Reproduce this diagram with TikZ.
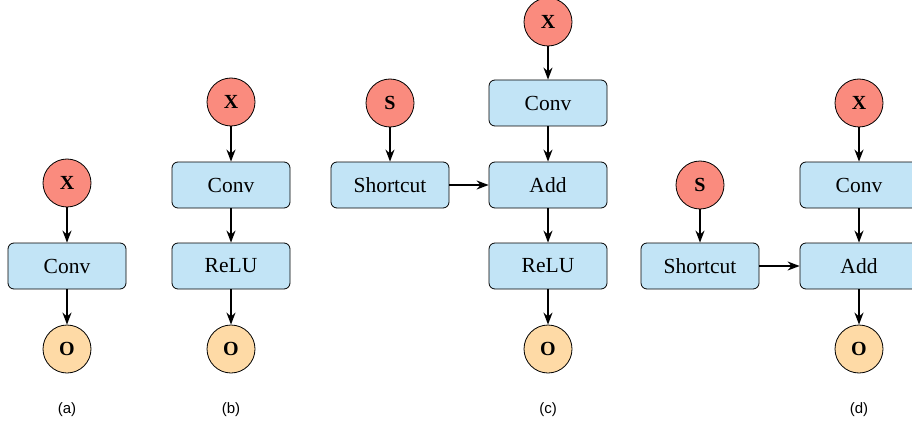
\documentclass[tikz,border=0pt]{standalone}
\usepackage{fontspec}
\setmainfont{Liberation Serif}
\newfontfamily\legendefont{Liberation Sans}
\usetikzlibrary{arrows.meta}
\definecolor{rouge_clair}{HTML}{FA8B7E}
\definecolor{bleu_clair}{HTML}{C2E4F6}
\definecolor{orange_clair}{HTML}{FEDAA6}

\begin{document}
\begin{tikzpicture}[x=1pt,y=-1pt,>={Stealth[length=12pt,width=9pt]},
    bloc/.style={draw, line width=0.8pt, fill=bleu_clair, rounded corners=6pt,
      minimum width=118pt, minimum height=46pt, font=\fontsize{21.5}{24}\selectfont},
    entree/.style={draw, line width=0.8pt, circle, fill=rouge_clair, minimum size=48pt,
      inner sep=0pt, font=\fontsize{20}{22}\selectfont\bfseries},
    sortie/.style={entree, fill=orange_clair},
    fleche/.style={->, line width=1.8pt}]

    % Cadre de l'image
    \useasboundingbox (0,0) rectangle (912,425);
    \clip (0,0) rectangle (912,425);

    % Schéma (a)
    \node[entree] (xa) at (67,183) {X};
    \node[bloc] (conva) at (67,266) {Conv};
    \node[sortie] (oa) at (67,349) {O};
    \draw[fleche] (xa) -- (conva);
    \draw[fleche] (conva) -- (oa);

    % Schéma (b)
    \node[entree] (xb) at (231,102) {X};
    \node[bloc] (convb) at (231,185) {Conv};
    \node[bloc] (relub) at (231,266) {ReLU};
    \node[sortie] (ob) at (231,349) {O};
    \draw[fleche] (xb) -- (convb);
    \draw[fleche] (convb) -- (relub);
    \draw[fleche] (relub) -- (ob);

    % Schéma (c) : bloc résiduel avec ReLU
    \node[entree] (xc) at (548,22) {X};
    \node[bloc] (convc) at (548,103) {Conv};
    \node[bloc] (addc) at (548,185) {Add};
    \node[bloc] (reluc) at (548,266) {ReLU};
    \node[sortie] (oc) at (548,349) {O};
    \node[entree] (sc) at (390,103) {S};
    \node[bloc] (shortc) at (390,185) {Shortcut};
    \draw[fleche] (xc) -- (convc);
    \draw[fleche] (convc) -- (addc);
    \draw[fleche] (addc) -- (reluc);
    \draw[fleche] (reluc) -- (oc);
    \draw[fleche] (sc) -- (shortc);
    \draw[fleche] (shortc) -- (addc);

    % Schéma (d) : bloc résiduel sans ReLU
    \node[entree] (xd) at (859,103) {X};
    \node[bloc] (convd) at (859,185) {Conv};
    \node[bloc] (addd) at (859,266) {Add};
    \node[sortie] (od) at (859,349) {O};
    \node[entree] (sd) at (700,185) {S};
    \node[bloc] (shortd) at (700,266) {Shortcut};
    \draw[fleche] (xd) -- (convd);
    \draw[fleche] (convd) -- (addd);
    \draw[fleche] (addd) -- (od);
    \draw[fleche] (sd) -- (shortd);
    \draw[fleche] (shortd) -- (addd);

    % Légendes
    \foreach \x/\lettre in {67/a,231/b,548/c,859/d}
      \node[font=\legendefont\fontsize{15}{17}\selectfont] (leg\lettre) at (\x,410) {(\lettre)};
  \end{tikzpicture}
\end{document}
